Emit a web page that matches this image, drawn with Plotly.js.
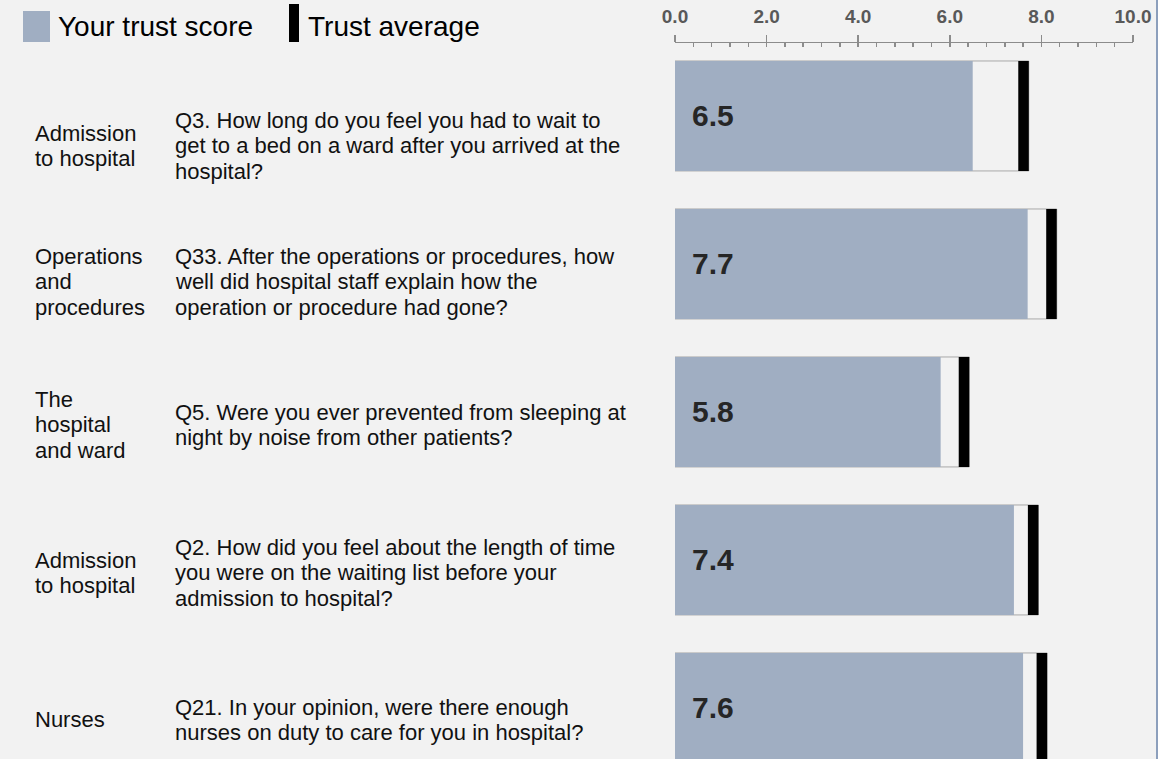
<!DOCTYPE html>
<html>
<head>
<meta charset="utf-8">
<script src="https://cdn.plot.ly/plotly-3.0.1.min.js"></script>
<style>
  html, body { margin: 0; padding: 0; background: #ffffff; }
  #chart { width: 1156px; height: 759px; border-right: 2px solid #8c9fbc; }
</style>
</head>
<body>
<div id="chart"></div>
<script>
// ---- data ----
const sections = [
  "Admission<br>to hospital",
  "Operations<br>and<br>procedures",
  "The<br>hospital<br>and ward",
  "Admission<br>to hospital",
  "Nurses"
];
const questions = [
  "Q3. How long do you feel you had to wait to<br>get to a bed on a ward after you arrived at the<br>hospital?",
  "Q33. After the operations or procedures, how<br>well did hospital staff explain how the<br>operation or procedure had gone?",
  "Q5. Were you ever prevented from sleeping at<br>night by noise from other patients?",
  "Q2. How did you feel about the length of time<br>you were on the waiting list before your<br>admission to hospital?",
  "Q21. In your opinion, were there enough<br>nurses on duty to care for you in hospital?"
];
const trustScores = [6.5, 7.7, 5.8, 7.4, 7.6];
const trustAverages = [7.61, 8.22, 6.31, 7.82, 8.01];
const tickValues = [0, 2, 4, 6, 8, 10];
const legendLabels = ["Your trust score", "Trust average"];

// ---- styling ----
const FONT = 'Liberation Sans, Arial, sans-serif';
const BG = '#f2f2f2';
const BAR = '#a0aec2';
const MARK_W = 0.23;
const BAR_W = 0.743;
const W = 1156, H = 759;
const M = {l: 675, r: 23, t: 43, b: 0};
const PW = W - M.l - M.r, PH = H - M.t - M.b;
const px = x => (x - M.l) / PW;          // pixel -> paper x
const py = y => (H - M.b - y) / PH;      // pixel -> paper y
const ROW_SHIFT = [30, 18, 13, 13, 12];  // text block offset below bar centre (px)
const LINE_H = 25.5;                     // text line spacing (px)
const TXT_SIZE = 22;

const idx = trustScores.map((_, i) => i);

const traces = [
  { // outline box up to the trust average
    type: 'bar', orientation: 'h', y: idx,
    x: trustAverages.map(a => a + MARK_W / 2),
    width: BAR_W, marker: {color: BG, line: {color: '#a9a9a9', width: 1}},
    hoverinfo: 'skip', showlegend: false
  },
  { // trust score
    type: 'bar', orientation: 'h', y: idx, x: trustScores,
    width: BAR_W, marker: {color: BAR, line: {width: 0}},
    name: legendLabels[0], showlegend: false
  },
  { // trust average marker
    type: 'bar', orientation: 'h', y: idx,
    x: trustAverages.map(() => MARK_W),
    base: trustAverages.map(a => a - MARK_W / 2),
    width: BAR_W, marker: {color: '#000000', line: {width: 0}},
    xaxis: 'x2', name: legendLabels[1], showlegend: false
  }
];

const annotations = [];
function addBlock(text, i, xpx) {
  const lines = text.split('<br>');
  const n = lines.length;
  lines.forEach((ln, k) => {
    const dy = ROW_SHIFT[i] + (k - (n - 1) / 2) * LINE_H;
    annotations.push({
      xref: 'paper', yref: 'y', x: px(xpx), y: i, xanchor: 'left', yanchor: 'middle',
      yshift: -dy, align: 'left', text: ln, showarrow: false,
      font: {family: FONT, size: TXT_SIZE, color: '#111111'}
    });
  });
}
idx.forEach(i => {
  annotations.push({
    xref: 'x', yref: 'y', x: 0, y: i, xanchor: 'left', yanchor: 'middle',
    xshift: 15, text: trustScores[i].toFixed(1), showarrow: false,
    font: {family: FONT, size: 30, color: '#262626', weight: 'bold'}
  });
  addBlock(sections[i], i, 33);
  addBlock(questions[i], i, 173);
});
// legend texts
annotations.push({
  xref: 'paper', yref: 'paper', x: px(56), y: py(26), xanchor: 'left', yanchor: 'middle',
  text: legendLabels[0], showarrow: false, font: {family: FONT, size: 28, color: '#000000'}
});
annotations.push({
  xref: 'paper', yref: 'paper', x: px(306), y: py(26), xanchor: 'left', yanchor: 'middle',
  text: legendLabels[1], showarrow: false, font: {family: FONT, size: 28, color: '#000000'}
});

const shapes = [
  {type: 'rect', xref: 'paper', yref: 'paper', x0: px(23), x1: px(50), y0: py(42), y1: py(11),
   fillcolor: BAR, line: {width: 0}},
  {type: 'rect', xref: 'paper', yref: 'paper', x0: px(289), x1: px(299), y0: py(42), y1: py(4),
   fillcolor: '#000000', line: {width: 0}}
];

const axisCommon = {
  range: [0, 10], showgrid: false, zeroline: false, fixedrange: true
};

const layout = {
  width: W, height: H,
  margin: M,
  paper_bgcolor: BG, plot_bgcolor: 'rgba(0,0,0,0)',
  barmode: 'overlay',
  showlegend: false,
  xaxis: Object.assign({}, axisCommon, {
    side: 'top', showline: true, linecolor: '#8c8c8c', linewidth: 1.5,
    tickmode: 'array', tickvals: tickValues, ticks: 'inside', ticklen: 4,
    tickcolor: '#8c8c8c', tickwidth: 1.5, showticklabels: false,
    minor: {dtick: 0.4, tick0: 0, ticks: 'inside', ticklen: 4, tickcolor: '#8c8c8c', tickwidth: 1.5}
  }),
  xaxis2: Object.assign({}, axisCommon, {
    overlaying: 'x', side: 'top', showline: false,
    tickmode: 'array', tickvals: tickValues, ticktext: tickValues.map(v => v.toFixed(1)),
    ticks: 'outside', ticklen: 7, tickcolor: '#8c8c8c', tickwidth: 1.5,
    ticklabelstandoff: 4,
    tickfont: {family: FONT, size: 19, color: '#595959', weight: 'bold'}
  }),
  yaxis: {range: [4.345, -0.493], visible: false, fixedrange: true},
  annotations: annotations,
  shapes: shapes
};

Plotly.newPlot('chart', traces, layout, {displayModeBar: false, staticPlot: true});
</script>
</body>
</html>
